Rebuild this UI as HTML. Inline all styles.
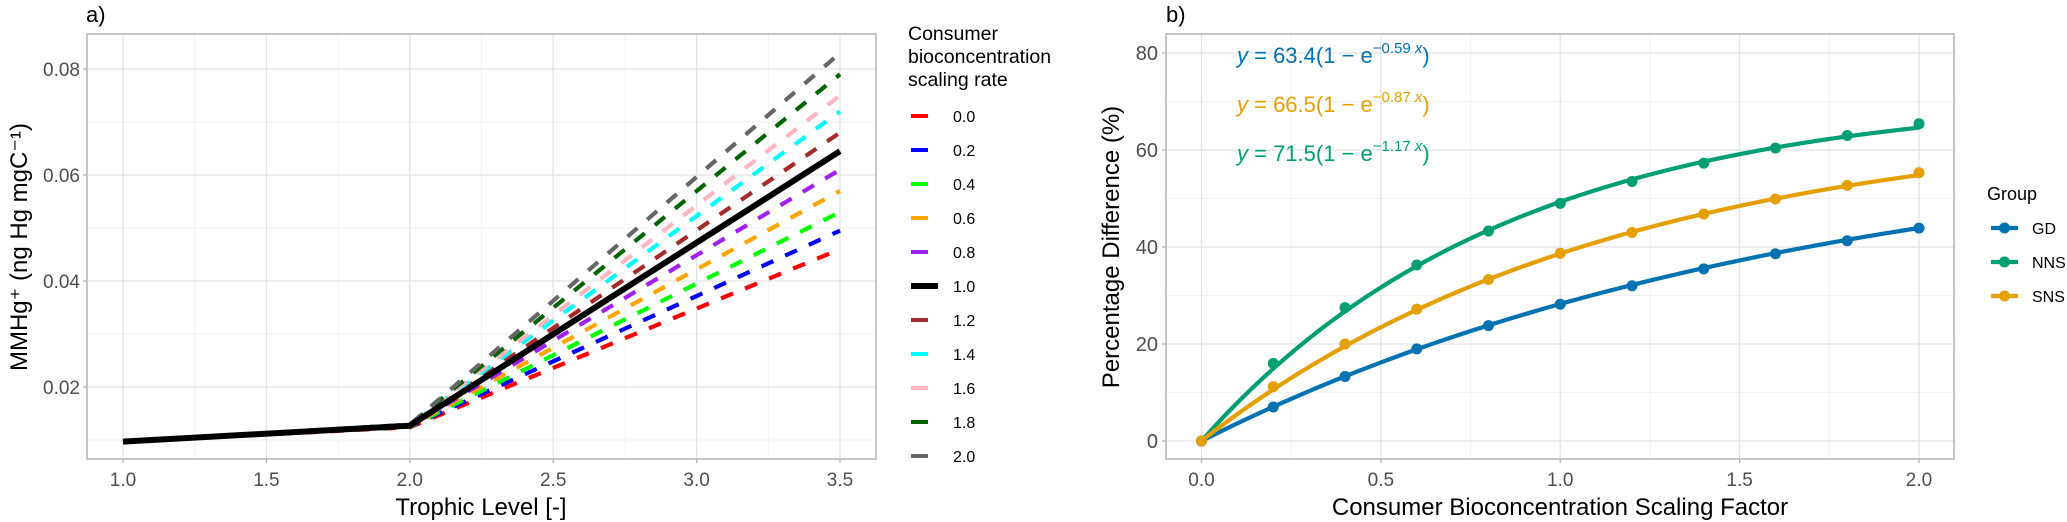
<!DOCTYPE html>
<html><head><meta charset="utf-8">
<style>
html,body{margin:0;padding:0;background:#fff;}
svg{display:block;font-family:"Liberation Sans",Arial,sans-serif;}
</style></head>
<body>
<svg id="chart" width="2067" height="522" viewBox="0 0 2067 522" xmlns="http://www.w3.org/2000/svg">
  <g id="pa"></g>
  <g id="pb"></g>
</svg>
<script>
// ---------- Panel a data ----------
const aLevels = ["0.0","0.2","0.4","0.6","0.8","1.0","1.2","1.4","1.6","1.8","2.0"];
const aColors = ["#FF0000","#0000FF","#00FF00","#FFA500","#A020F0","#000000","#A52A2A","#00FFFF","#FFB6C1","#006400","#666666"];
const aX = [1.0, 2.0, 3.5];
const aStart = [0.0097,0.0097,0.0097,0.0097,0.0097,0.0097,0.0097,0.0097,0.0097,0.0097,0.0097];
const aMid = [0.0124,0.0125,0.0125,0.0126,0.0126,0.0127,0.0127,0.0128,0.0128,0.0129,0.0129];
const aEnd = [0.046,0.0495,0.053,0.057,0.061,0.0645,0.068,0.072,0.075,0.079,0.083];
const aXTicks = [1.0,1.5,2.0,2.5,3.0,3.5];
const aYTicks = [0.02,0.04,0.06,0.08];
// ---------- Panel b data ----------
const bGroups = ["GD","NNS","SNS"];
const bColors = ["#0072B2","#009E73","#E69F00"];
const bX = [0,0.2,0.4,0.6,0.8,1.0,1.2,1.4,1.6,1.8,2.0];
const bGD = [0,7,13.3,19,23.8,28.2,32,35.5,38.6,41.3,43.9];
const bNNS = [0,16,27.5,36.3,43.3,49,53.5,57.3,60.4,63,65.4];
const bSNS = [0,11.2,20,27.2,33.3,38.7,43,46.8,49.9,52.7,55.3];
const bA = [63.4,71.5,66.5];
const bK = [0.59,1.17,0.87];
const bXTicks = [0,0.5,1.0,1.5,2.0];
const bYTicks = [0,20,40,60,80];

const NS="http://www.w3.org/2000/svg";
function mk(parent,tag,attrs,text){const e=document.createElementNS(NS,tag);for(const k in attrs)e.setAttribute(k,attrs[k]);if(text!==undefined)e.textContent=text;parent.appendChild(e);return e;}

// ===== Panel a =====
const pa=document.getElementById('pa');
const axL=87,axR=876,axT=34,axB=459;
const ax=v=>123+(v-1)*286.8;
const ay=v=>387-(v-0.02)*5300;
// grids
[1.25,1.75,2.25,2.75,3.25].forEach(v=>{const l=mk(pa,'line',{x1:ax(v),x2:ax(v),y1:axT,y2:axB,stroke:'#F2F2F2','stroke-width':1});

});
[0.01,0.03,0.05,0.07].forEach(v=>{const l=mk(pa,'line',{x1:axL,x2:axR,y1:ay(v),y2:ay(v),stroke:'#F2F2F2','stroke-width':1});

});
aXTicks.forEach(v=>{const l=mk(pa,'line',{x1:ax(v),x2:ax(v),y1:axT,y2:axB,stroke:'#E3E3E3','stroke-width':1.3});


const t=mk(pa,'line',{x1:ax(v),x2:ax(v),y1:axB,y2:axB+4,stroke:'#B3B3B3','stroke-width':1.3});


const tx=mk(pa,'text',{x:ax(v),y:486,'text-anchor':'middle','font-size':19,fill:'#4D4D4D'},v.toFixed(1));

});
aYTicks.forEach(v=>{const l=mk(pa,'line',{x1:axL,x2:axR,y1:ay(v),y2:ay(v),stroke:'#E3E3E3','stroke-width':1.3});


const t=mk(pa,'line',{x1:axL-4,x2:axL,y1:ay(v),y2:ay(v),stroke:'#B3B3B3','stroke-width':1.3});


const tx=mk(pa,'text',{x:axL-7,y:ay(v)+7,'text-anchor':'end','font-size':19,fill:'#4D4D4D'},v.toFixed(2));

});
// series (draw non-black first, black on top? keep order with black drawn after dashes under it)
const order=[0,1,2,3,4,6,7,8,9,10,5];
order.forEach(i=>{
  const ys=[aStart[i],aMid[i],aEnd[i]];
  const pts=aX.map((x,j)=>ax(x)+','+ay(ys[j])).join(' ');
  const isBlack=aLevels[i]==="1.0";
  const p=mk(pa,'polyline',{points:pts,fill:'none',stroke:aColors[i],'stroke-width':isBlack?6:4.2,'stroke-dasharray':isBlack?'none':'13 13','stroke-dashoffset':i*2.3});
  
  
});
// border
const ba=mk(pa,'rect',{x:axL,y:axT,width:axR-axL,height:axB-axT,fill:'none',stroke:'#B3B3B3','stroke-width':1.5});


let t;
t=mk(pa,'text',{x:86,y:22,'font-size':22,fill:'#000'},'a)');


t=mk(pa,'text',{x:481,y:515,'text-anchor':'middle','font-size':24,fill:'#000'},'Trophic Level [-]');


t=mk(pa,'text',{x:0,y:0,'text-anchor':'middle','font-size':24,fill:'#000',transform:'translate(27,247) rotate(-90)'},'MMHg⁺ (ng Hg mgC⁻¹)');


// legend a
['Consumer','bioconcentration','scaling rate'].forEach((s,k)=>{const e=mk(pa,'text',{x:908,y:40+k*23,'font-size':19.5,fill:'#000'},s);

});
aLevels.forEach((lv,i)=>{
  const y=116+i*34;
  const isBlack=lv==="1.0";
  const l=mk(pa,'line',{x1:911,x2:isBlack?938:928,y1:y,y2:y,stroke:aColors[i],'stroke-width':isBlack?6:4});
  
  
  const e=mk(pa,'text',{x:953,y:y+6,'font-size':16,fill:'#000'},lv);
  
  
});

// ===== Panel b =====
const pb=document.getElementById('pb');
const bL=1166,bR=1954,bT=34,bB=459;
const bx=v=>1201.5+v*358.75;
const by=v=>441-v*4.85;
[0.25,0.75,1.25,1.75].forEach(v=>{const l=mk(pb,'line',{x1:bx(v),x2:bx(v),y1:bT,y2:bB,stroke:'#F2F2F2','stroke-width':1});

});
[10,30,50,70].forEach(v=>{const l=mk(pb,'line',{x1:bL,x2:bR,y1:by(v),y2:by(v),stroke:'#F2F2F2','stroke-width':1});

});
bXTicks.forEach(v=>{const l=mk(pb,'line',{x1:bx(v),x2:bx(v),y1:bT,y2:bB,stroke:'#E3E3E3','stroke-width':1.3});


const tk=mk(pb,'line',{x1:bx(v),x2:bx(v),y1:bB,y2:bB+4,stroke:'#B3B3B3','stroke-width':1.3});


const tx=mk(pb,'text',{x:bx(v),y:486,'text-anchor':'middle','font-size':19,fill:'#4D4D4D'},v.toFixed(1));

});
bYTicks.forEach(v=>{const l=mk(pb,'line',{x1:bL,x2:bR,y1:by(v),y2:by(v),stroke:'#E3E3E3','stroke-width':1.3});


const tk=mk(pb,'line',{x1:bL-4,x2:bL,y1:by(v),y2:by(v),stroke:'#B3B3B3','stroke-width':1.3});


const tx=mk(pb,'text',{x:bL-8,y:by(v)+7,'text-anchor':'end','font-size':20,fill:'#4D4D4D'},String(v));

});
const bSeries=[bGD,bNNS,bSNS];
bSeries.forEach((vals,g)=>{
  let d='';
  for(let i=0;i<=100;i++){const x=2*i/100;const y=bA[g]*(1-Math.exp(-bK[g]*x));d+=(i?'L':'M')+bx(x).toFixed(2)+','+by(y).toFixed(2);}
  const p=mk(pb,'path',{d:d,fill:'none',stroke:bColors[g],'stroke-width':4.2});
  
  
});
bSeries.forEach((vals,g)=>{
  vals.forEach((v,i)=>{
    const c=mk(pb,'circle',{cx:bx(bX[i]),cy:by(v),r:5.5,fill:bColors[g]});
    
    
  });
});
const bb=mk(pb,'rect',{x:bL,y:bT,width:bR-bL,height:bB-bT,fill:'none',stroke:'#B3B3B3','stroke-width':1.5});


t=mk(pb,'text',{x:1166,y:22,'font-size':22,fill:'#000'},'b)');


t=mk(pb,'text',{x:1560,y:515,'text-anchor':'middle','font-size':24,fill:'#000'},'Consumer Bioconcentration Scaling Factor');


t=mk(pb,'text',{x:0,y:0,'text-anchor':'middle','font-size':24,fill:'#000',transform:'translate(1119,247) rotate(-90)'},'Percentage Difference (%)');


// equations
const eqOrder=[0,2,1];
eqOrder.forEach((g,k)=>{
  const y=63+k*49;
  const e=mk(pb,'text',{x:1237,y:y,'font-size':22,fill:bColors[g]});
  
  
  mk(e,'tspan',{'font-style':'italic'},'y');
  mk(e,'tspan',{},' = '+bA[g].toFixed(1)+'(1 − e');
  mk(e,'tspan',{'font-size':15,dy:-10},'−'+bK[g].toFixed(2)+' ');
  mk(e,'tspan',{'font-size':15,'font-style':'italic'},'x');
  mk(e,'tspan',{dy:10},')');
});
// legend b
t=mk(pb,'text',{x:1987,y:200,'font-size':18,fill:'#000'},'Group');


bGroups.forEach((gname,g)=>{
  const y=228+g*34;
  const l=mk(pb,'line',{x1:1991,x2:2018,y1:y,y2:y,stroke:bColors[g],'stroke-width':4.2});
  
  
  const c=mk(pb,'circle',{cx:2004.5,cy:y,r:5.5,fill:bColors[g]});
  
  
  const e=mk(pb,'text',{x:2032,y:y+6,'font-size':16,fill:'#000'},gname);
  
  
});
</script>
</body></html>
